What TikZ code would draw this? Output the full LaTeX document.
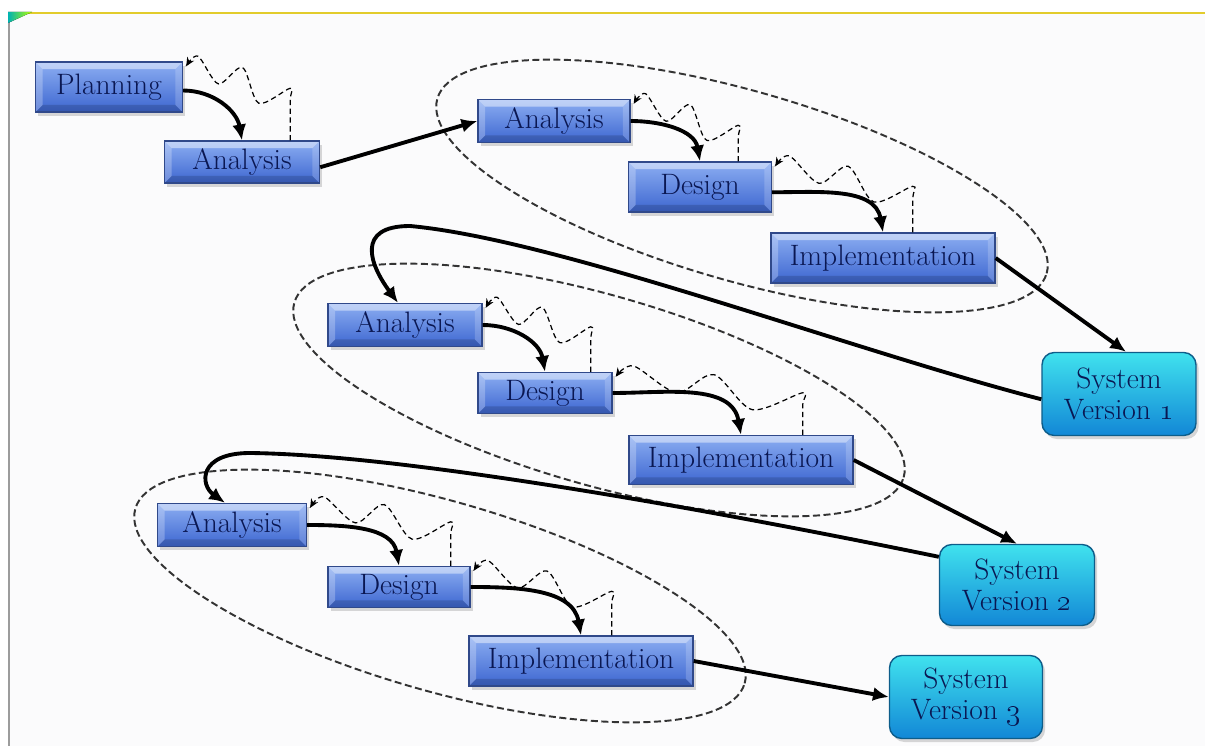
\documentclass[tikz,border=0pt]{standalone}
\usetikzlibrary{arrows.meta,shadows,calc}

\definecolor{inktext}{HTML}{0A1752}
\definecolor{boxtop}{HTML}{8CAEF2}
\definecolor{boxbot}{HTML}{3D66D0}
\definecolor{boxedge}{HTML}{30498A}
\definecolor{svtop}{HTML}{40E2EE}
\definecolor{svbot}{HTML}{1287D6}
\definecolor{svedge}{HTML}{0D5D8A}
\definecolor{rule}{HTML}{E2CC2C}
\definecolor{margin}{HTML}{9C9C9C}
\definecolor{paper}{HTML}{FBFBFC}

\tikzset{
  bevel/.style={path picture={
    \fill[white,opacity=.45] (path picture bounding box.north west) -- (path picture bounding box.north east)
      -- ([xshift=-4pt,yshift=-4pt]path picture bounding box.north east) -- ([xshift=4pt,yshift=-4pt]path picture bounding box.north west) -- cycle;
    \fill[white,opacity=.25] (path picture bounding box.north west) -- (path picture bounding box.south west)
      -- ([xshift=4pt,yshift=4pt]path picture bounding box.south west) -- ([xshift=4pt,yshift=-4pt]path picture bounding box.north west) -- cycle;
    \fill[white,opacity=.18] (path picture bounding box.north east) -- (path picture bounding box.south east)
      -- ([xshift=-4pt,yshift=4pt]path picture bounding box.south east) -- ([xshift=-4pt,yshift=-4pt]path picture bounding box.north east) -- cycle;
    \fill[black,opacity=.15] (path picture bounding box.south west) -- (path picture bounding box.south east)
      -- ([xshift=-4pt,yshift=4pt]path picture bounding box.south east) -- ([xshift=4pt,yshift=4pt]path picture bounding box.south west) -- cycle;
  }},
  stage/.style={rectangle, inner sep=0pt, draw=boxedge, line width=0.8pt,
    top color=boxtop, bottom color=boxbot, text=inktext,
    font=\fontsize{16.8}{19}\selectfont, bevel,
    drop shadow={opacity=0.3, shadow xshift=1.5pt, shadow yshift=-2pt}},
  release/.style={rectangle, rounded corners=7pt, inner sep=0pt, draw=svedge, line width=0.8pt,
    top color=svtop, bottom color=svbot, text=inktext, align=center,
    font=\fontsize{16.8}{17.6}\selectfont,
    drop shadow={opacity=0.3, shadow xshift=1.5pt, shadow yshift=-2pt}},
  flow/.style={line width=2.2pt, -{Latex[length=9pt,width=8pt]}},
  iterate/.style={line width=0.7pt, densely dashed, -{Stealth[length=5pt,width=4.5pt]}},
  cycleloop/.style={line width=1.1pt, dash pattern=on 4pt off 2pt, black!80},
}

% wavy feedback line: start on the lower box, rise to #2, wiggle back to #3
\newcommand\ripple[3]{%
  \draw[iterate] plot[smooth, tension=0.5] coordinates {
    (#1) ($(#2)+(0,12)$) (#2)
    ($(#2)!0.26!(#3)!12pt!90:(#3)$)
    ($(#2)!0.48!(#3)!6pt!-90:(#3)$)
    ($(#2)!0.67!(#3)!6pt!90:(#3)$)
    ($(#2)!0.91!(#3)!7pt!-90:(#3)$)
    (#3)};}

\begin{document}
\begin{tikzpicture}[x=0.02cm, y=-0.02cm]
\useasboundingbox (0,0) rectangle (1205,746);

% slide page
\fill[white] (0,0) rectangle (1205,746);
\fill[paper] (9,13) rectangle (1205,746);
\draw[rule, line width=1.6pt] (8,13) -- (1205,13);
\draw[margin, line width=1.3pt] (9,13) -- (9,746);
\fill[left color=teal!60!cyan, right color=yellow!70!green] (8,12) -- (32,12) -- (8,23) -- cycle;

% iteration groups
\draw[cycleloop, rotate around={-16:(742,186)}] (742,186) ellipse [x radius=6.34cm, y radius=1.9cm];
\draw[cycleloop, rotate around={-16:(599,390)}] (599,390) ellipse [x radius=6.34cm, y radius=1.9cm];
\draw[cycleloop, rotate around={-16:(440,596)}] (440,596) ellipse [x radius=6.34cm, y radius=1.9cm];

% phases
\node[stage, minimum width=2.94cm, minimum height=1.0cm]  (plan) at (109,87)  {Planning};
\node[stage, minimum width=3.1cm,  minimum height=0.84cm] (an0)  at (242,162) {Analysis};

\node[stage, minimum width=3.04cm, minimum height=0.86cm] (an1)  at (554,121) {Analysis};
\node[stage, minimum width=2.86cm, minimum height=1.0cm]  (d1)   at (700,187) {Design};
\node[stage, minimum width=4.48cm, minimum height=1.0cm]  (i1)   at (883,258) {Implementation};

\node[stage, minimum width=3.08cm, minimum height=0.86cm] (an2)  at (405,325) {Analysis};
\node[stage, minimum width=2.68cm, minimum height=0.82cm] (d2)   at (545,393) {Design};
\node[stage, minimum width=4.48cm, minimum height=0.98cm] (i2)   at (741,460) {Implementation};

\node[stage, minimum width=2.98cm, minimum height=0.86cm] (an3)  at (232,525) {Analysis};
\node[stage, minimum width=2.84cm, minimum height=0.82cm] (d3)   at (399,587) {Design};
\node[stage, minimum width=4.48cm, minimum height=1.0cm]  (i3)   at (581,661) {Implementation};

\node[release, minimum width=3.08cm, minimum height=1.66cm] (sv1) at (1119,394) {System\\Version \oldstylenums{1}};
\node[release, minimum width=3.1cm,  minimum height=1.62cm] (sv2) at (1017,585) {System\\Version \oldstylenums{2}};
\node[release, minimum width=3.06cm, minimum height=1.66cm] (sv3) at (966,697)  {System\\Version \oldstylenums{3}};

% forward flow
\draw[flow] ([yshift=-2pt]plan.east) to[out=0,in=100] (an0.north);
\draw[flow] ([yshift=-3pt]an0.east) -- (an1.west);
\draw[flow] (an1.east) to[out=0,in=100] (d1.north);
\draw[flow] ([yshift=-3pt]d1.east) to[out=0,in=100] (i1.north);
\draw[flow] (i1.east) -- ([xshift=4pt]sv1.north);
\draw[flow] ([yshift=-3pt]sv1.west) .. controls (850,350) and (560,240) .. (410,226)
            .. controls (355,226) and (370,265) .. ($(an2.north)+(-7,0)$);
\draw[flow] (an2.east) to[out=0,in=100] (d2.north);
\draw[flow] (d2.east) to[out=0,in=100] (i2.north);
\draw[flow] (i2.east) -- (sv2.north);
\draw[flow] ($(sv2.north west)+(0,13)$) .. controls (760,520) and (420,455) .. (250,453)
            .. controls (198,453) and (200,485) .. ($(an3.north)+(-7,0)$);
\draw[flow] (an3.east) to[out=0,in=100] (d3.north);
\draw[flow] (d3.east) to[out=0,in=100] (i3.north);
\draw[flow] (i3.east) -- (sv3.west);

% feedback within each cycle
\coordinate (w1s) at ($(an0.north east)+(-30,0)$);
\coordinate (w1t) at ($(w1s)+(0,-52)$);
\coordinate (w1e) at ($(plan.north east)+(3,5)$);
\ripple{w1s}{w1t}{w1e}

\coordinate (w2s) at ($(d1.north east)+(-34,0)$);
\coordinate (w2t) at ($(w2s)+(0,-36)$);
\coordinate (w2e) at ($(an1.north east)+(3,5)$);
\ripple{w2s}{w2t}{w2e}

\coordinate (w3s) at ($(i1.north east)+(-83,0)$);
\coordinate (w3t) at ($(w3s)+(0,-46)$);
\coordinate (w3e) at ($(d1.north east)+(3,5)$);
\ripple{w3s}{w3t}{w3e}

\coordinate (w4s) at ($(d2.north east)+(-22,0)$);
\coordinate (w4t) at ($(w4s)+(0,-45)$);
\coordinate (w4e) at ($(an2.north east)+(3,5)$);
\ripple{w4s}{w4t}{w4e}

\coordinate (w5s) at ($(i2.north east)+(-51,0)$);
\coordinate (w5t) at ($(w5s)+(0,-42)$);
\coordinate (w5e) at ($(d2.north east)+(3,5)$);
\ripple{w5s}{w5t}{w5e}

\coordinate (w6s) at ($(d3.north east)+(-20,0)$);
\coordinate (w6t) at ($(w6s)+(0,-44)$);
\coordinate (w6e) at ($(an3.north east)+(3,5)$);
\ripple{w6s}{w6t}{w6e}

\coordinate (w7s) at ($(i3.north east)+(-82,0)$);
\coordinate (w7t) at ($(w7s)+(0,-44)$);
\coordinate (w7e) at ($(d3.north east)+(3,5)$);
\ripple{w7s}{w7t}{w7e}
\end{tikzpicture}
\end{document}
